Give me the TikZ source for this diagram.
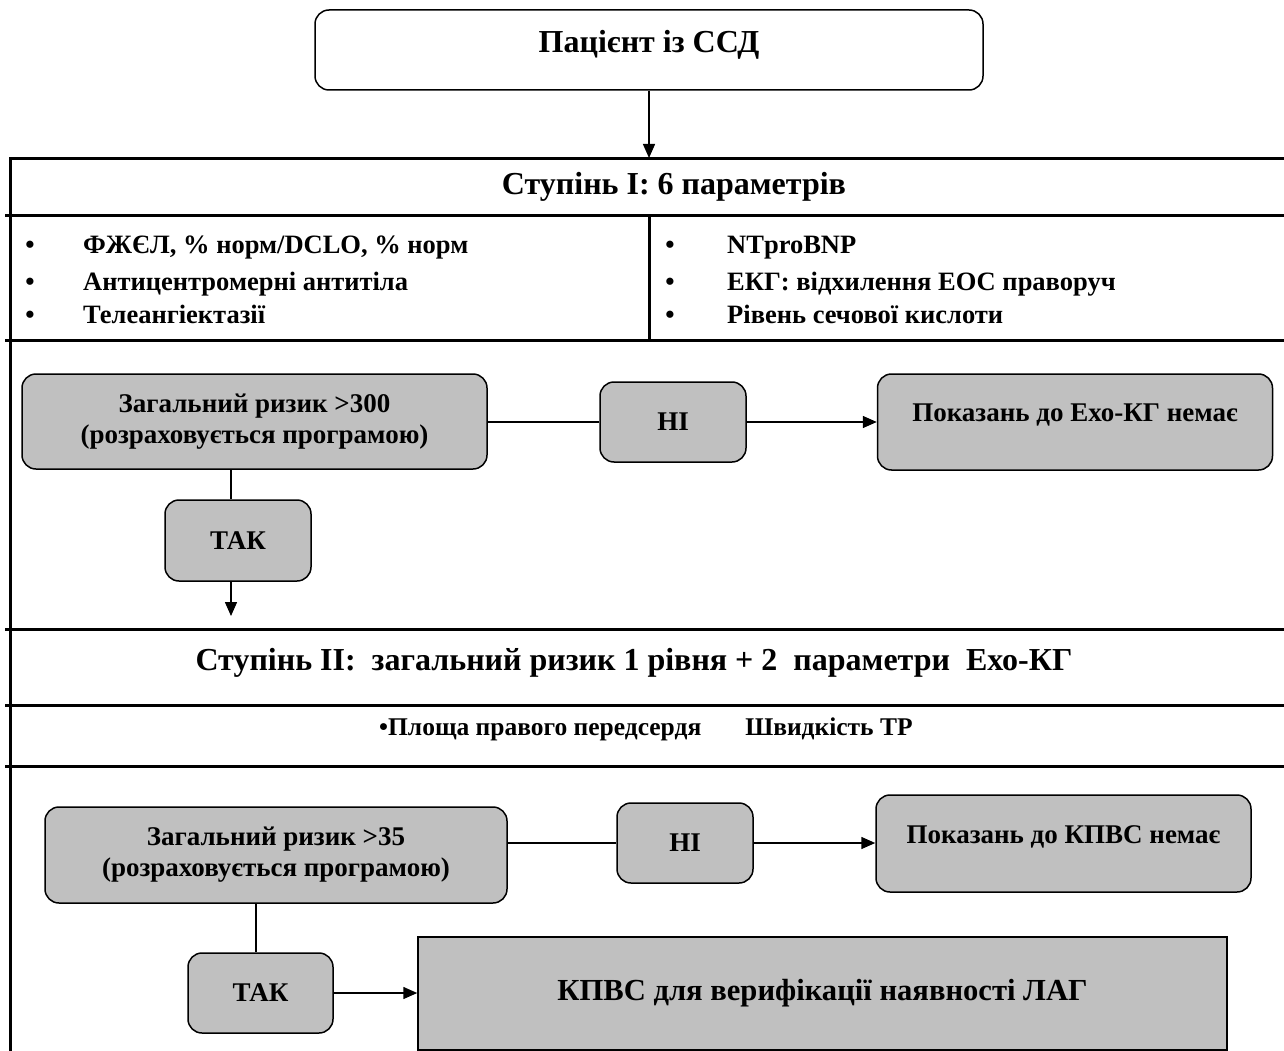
\documentclass[tikz,border=0pt]{standalone}
\usepackage{fontspec}
\setmainfont{Liberation Serif}
\usetikzlibrary{arrows.meta,calc}
\definecolor{boxgray}{RGB}{192,192,192}
\newcommand\fTop{\fontsize{32}{38}\selectfont\bfseries}
\newcommand\fTitle{\fontsize{32}{38}\selectfont\bfseries}
\newcommand\fBul{\fontsize{26.5}{31}\selectfont\bfseries}
\newcommand\fBox{\fontsize{27}{31}\selectfont\bfseries}
\newcommand\fRow{\fontsize{25.5}{30}\selectfont\bfseries}
\newcommand\fFinal{\fontsize{30.6}{36}\selectfont\bfseries}
\tikzset{
  rbox/.style={draw, line width=1.5pt, rounded corners=14pt, fill=boxgray, align=center, font=\fBox, inner sep=0pt},
  wbox/.style={draw, line width=1.5pt, rounded corners=14pt, fill=white, align=center, font=\fTop, inner sep=0pt},
  sbox/.style={draw, line width=1.5pt, fill=boxgray, align=center, font=\fFinal, inner sep=0pt},
  tline/.style={line width=3pt},
  cline/.style={line width=1.5pt},
  arr/.style={line width=1.5pt, -{Triangle[length=14pt,width=12pt]}},
  bul/.style={anchor=base, font=\fBul, inner sep=0pt},
  btxt/.style={anchor=base west, font=\fBul, inner sep=0pt},
}
\begin{document}
\begin{tikzpicture}[x=1pt,y=-1pt]
\useasboundingbox (0,0) rectangle (1284,1051);
% table lines
\draw[tline] (10,1051) -- (10,159) -- (1284,159);
\draw[tline] (5,215) -- (1284,215);
\draw[tline] (5,340) -- (1284,340);
\draw[tline] (649,215) -- (649,340);
\draw[tline] (5,629) -- (1284,629);
\draw[tline] (5,705) -- (1284,705);
\draw[tline] (5,766) -- (1284,766);
% top
\node[wbox, minimum width=668pt, minimum height=80pt, text depth=17pt] (patient) at (649,50) {Пацієнт із ССД};
\coordinate (tabtop) at (649,158);
\draw[arr] (patient.south) -- (tabtop);
% stage I
\node[font=\fTitle, inner sep=0pt] (title1) at (674,187) {Ступінь І: 6 параметрів};
\node[bul] (bl1) at (30,253) {•};
\node[btxt] (tl1) at (83,253) {ФЖЄЛ, \% норм/DCLO, \% норм};
\node[bul] (bl2) at (30,290) {•};
\node[btxt] (tl2) at (83,290) {Антицентромерні антитіла};
\node[bul] (bl3) at (30,323) {•};
\node[btxt] (tl3) at (83,323) {Телеангіектазії};
\node[bul] (br1) at (670,253) {•};
\node[btxt] (tr1) at (727,253) {NTproBNP};
\node[bul] (br2) at (670,290) {•};
\node[btxt] (tr2) at (727,290) {ЕКГ: відхилення ЕОС праворуч};
\node[bul] (br3) at (670,323) {•};
\node[btxt] (tr3) at (727,323) {Рівень сечової кислоти};
% flow I
\node[rbox, minimum width=465pt, minimum height=95pt] (riskA) at (254.5,421.5) {Загальний ризик >300\\(розраховується програмою)};
\node[rbox, minimum width=146pt, minimum height=80pt] (no1) at (673,422) {НІ};
\node[rbox, minimum width=395pt, minimum height=96pt, text depth=18pt] (show1) at (1075,422) {Показань до Ехо-КГ немає};
\node[rbox, minimum width=146pt, minimum height=81pt] (yes1) at (238,540.5) {ТАК};
\coordinate (yes1x) at (231,0);
\coordinate (yes1end) at (231,616);
\draw[cline] (riskA.east |- no1.west) -- (no1.west);
\draw[arr] (no1.east) -- (show1.west |- no1.east);
\draw[cline] (riskA.south -| yes1x) -- (yes1.north -| yes1x);
\draw[arr] (yes1.south -| yes1x) -- (yes1end);
% stage II
\node[font=\fTitle, inner sep=0pt] (title2) at (634,663) {Ступінь ІІ:~ загальний ризик 1 рівня + 2~ параметри~ Ехо-КГ};
\node[anchor=base west, font=\fRow, inner sep=0pt] (row2) at (379,735) {•Площа правого передсердя\hspace{44pt}Швидкість ТР};
% flow II
\node[rbox, minimum width=462pt, minimum height=96pt] (riskB) at (276,855) {Загальний ризик >35\\(розраховується програмою)};
\node[rbox, minimum width=136pt, minimum height=80pt] (no2) at (685,843) {НІ};
\node[rbox, minimum width=375pt, minimum height=97pt, text depth=18pt] (show2) at (1063.5,843.5) {Показань до КПВС немає};
\node[rbox, minimum width=145pt, minimum height=80pt] (yes2) at (260.5,993) {ТАК};
\node[sbox, minimum width=809pt, minimum height=113pt] (final) at (822.5,993.5) {КПВС для верифікації наявності ЛАГ};
\coordinate (yes2x) at (256,0);
\draw[cline] (riskB.east |- no2.west) -- (no2.west);
\draw[arr] (no2.east) -- (show2.west |- no2.east);
\draw[cline] (riskB.south -| yes2x) -- (yes2.north -| yes2x);
\draw[arr] (yes2.east) -- (final.west |- yes2.east);
\end{tikzpicture}
\end{document}
